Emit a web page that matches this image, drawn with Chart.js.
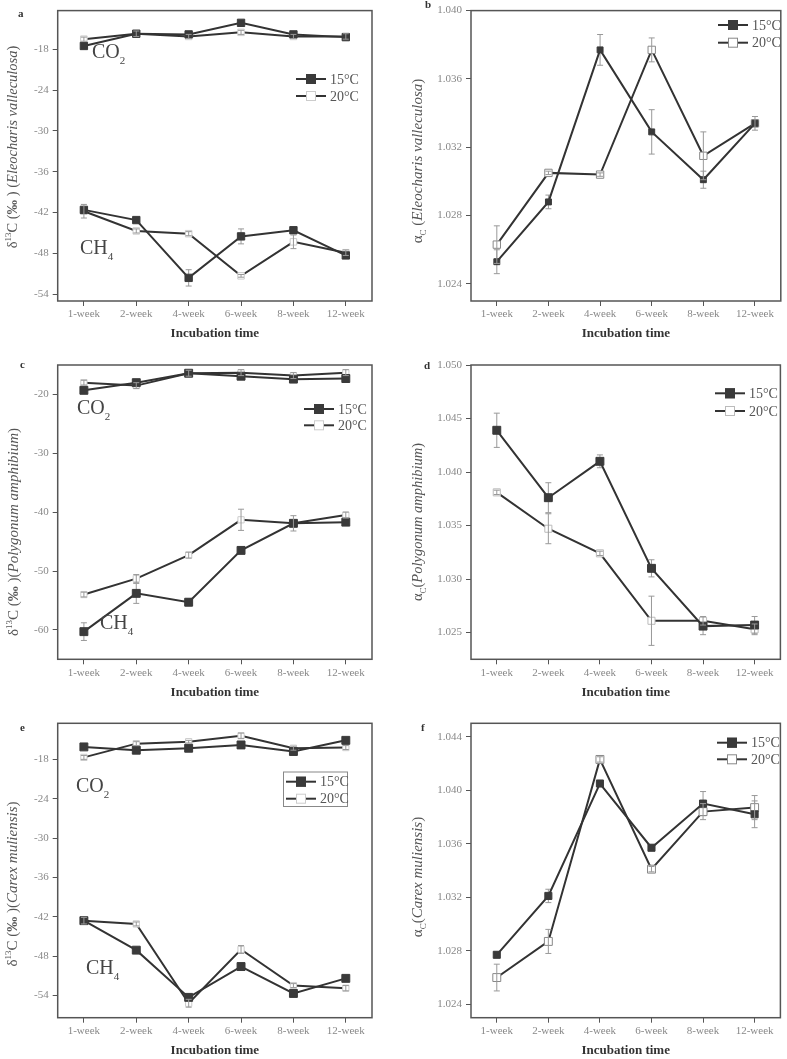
<!DOCTYPE html>
<html>
<head>
<meta charset="utf-8">
<script src="https://cdn.jsdelivr.net/npm/chart.js@4.4.0/dist/chart.umd.min.js"></script>
<style>
  body { margin: 0; background: #fff; width: 787px; height: 1059px; position: relative; overflow: hidden; font-family: "Liberation Serif", serif; }
  canvas { position: absolute; }
  .txt { position: absolute; white-space: nowrap; line-height: 1; }
  .ytitle { position: absolute; white-space: nowrap; color: #555; font-size: 15px; line-height: 1; transform: translate(-50%, -50%) rotate(-90deg); }
  .ytitle sup, .ytitle sub { font-size: 9px; line-height: 0; }
  .gas { font-size: 20px; color: #444; }
  .gas sub { font-size: 11px; vertical-align: -6px; line-height: 0; }
  .letter { font-weight: bold; font-size: 11px; color: #333; }
</style>
</head>
<body>
<canvas id="pa"></canvas><canvas id="pb"></canvas>
<canvas id="pc"></canvas><canvas id="pd"></canvas>
<canvas id="pe"></canvas><canvas id="pf"></canvas>

<div class="txt letter" style="left:18px;top:8px">a</div>
<div class="txt letter" style="left:425px;top:-1px">b</div>
<div class="txt letter" style="left:20px;top:359px">c</div>
<div class="txt letter" style="left:424px;top:360px">d</div>
<div class="txt letter" style="left:20px;top:722px">e</div>
<div class="txt letter" style="left:421px;top:722px">f</div>

<div class="ytitle" style="left:12px;top:147px;font-size:14.5px">δ<sup>13</sup>C (<b>‰</b> ) (<i>Eleocharis valleculosa</i>)</div>
<div class="ytitle" style="left:417px;top:161px">α<sub>C</sub> (<i>Eleocharis valleculosa</i>)</div>
<div class="ytitle" style="left:13px;top:532px">δ<sup>13</sup>C (<b>‰</b> )(<i>Polygonum amphibium</i>)</div>
<div class="ytitle" style="left:417px;top:522px;font-size:14.5px">α<sub>C</sub>(<i>Polygonum amphibium</i>)</div>
<div class="ytitle" style="left:12px;top:884px">δ<sup>13</sup>C (<b>‰</b> )(<i>Carex muliensis</i>)</div>
<div class="ytitle" style="left:417px;top:877px">α<sub>C</sub>(<i>Carex muliensis</i>)</div>

<div class="txt gas" style="left:92px;top:41px">CO<sub>2</sub></div>
<div class="txt gas" style="left:80px;top:237px">CH<sub>4</sub></div>
<div class="txt gas" style="left:77px;top:397px">CO<sub>2</sub></div>
<div class="txt gas" style="left:100px;top:612px">CH<sub>4</sub></div>
<div class="txt gas" style="left:76px;top:775px">CO<sub>2</sub></div>
<div class="txt gas" style="left:86px;top:957px">CH<sub>4</sub></div>

<script>
const weeks = ["1-week", "2-week", "4-week", "6-week", "8-week", "12-week"];

// a: delta13C, Eleocharis valleculosa
const aCO2_15 = [-17.5, -15.7, -15.8, -14.1, -15.8, -16.2];
const aCO2_20 = [-16.5, -15.7, -16.1, -15.5, -16.1, -16.1];
const aCH4_15 = [-41.6, -43.1, -51.6, -45.5, -44.6, -48.3];
const aCH4_20 = [-41.8, -44.7, -45.1, -51.3, -46.3, -47.9];
const aCO2_15err = [0.2, 0.3, 0.3, 0.2, 0.3, 0.3];
const aCO2_20err = [0.3, 0.4, 0.3, 0.3, 0.3, 0.4];
const aCH4_15err = [0.4, 0.2, 1.2, 1.1, 0.3, 0.2];
const aCH4_20err = [1.0, 0.3, 0.3, 0.2, 1.0, 0.4];
const aTicks = [-54, -48, -42, -36, -30, -24, -18];

// b: alphaC, Eleocharis valleculosa
const b15 = [1.0253, 1.0288, 1.0377, 1.0329, 1.0301, 1.0334];
const b20 = [1.0263, 1.0305, 1.0304, 1.0377, 1.0315, 1.0334];
const b15err = [0.0007, 0.0004, 0.0009, 0.0013, 0.0005, 0.0002];
const b20err = [0.0011, 0.0001, 0.0001, 0.0007, 0.0014, 0.0004];
const bTicks = [1.024, 1.028, 1.032, 1.036, 1.040];

// c: delta13C, Polygonum amphibium
const cCO2_15 = [-19.3, -18.0, -16.4, -16.9, -17.4, -17.3];
const cCO2_20 = [-18.0, -18.5, -16.4, -16.3, -16.8, -16.3];
const cCH4_15 = [-60.3, -53.8, -55.3, -46.5, -41.9, -41.7];
const cCH4_20 = [-54.0, -51.3, -47.3, -41.3, -41.9, -40.5];
const cCO2_15err = [0.3, 0.4, 0.3, 0.3, 0.3, 0.3];
const cCO2_20err = [0.4, 0.5, 0.5, 0.5, 0.5, 0.5];
const cCH4_15err = [1.5, 1.7, 0.6, 0.2, 0.4, 0.4];
const cCH4_20err = [0.4, 0.7, 0.5, 1.8, 1.3, 0.5];
const cTicks = [-60, -50, -40, -30, -20];

// d: alphaC, Polygonum amphibium
const d15 = [1.0439, 1.0376, 1.0410, 1.0310, 1.0256, 1.0257];
const d20 = [1.0381, 1.0347, 1.0324, 1.0261, 1.0261, 1.0253];
const d15err = [0.0016, 0.0014, 0.0006, 0.0008, 0.0008, 0.0008];
const d20err = [0.0002, 0.0014, 0.0002, 0.0023, 0.0004, 0.0005];
const dTicks = [1.025, 1.030, 1.035, 1.040, 1.045, 1.050];

// e: delta13C, Carex muliensis
const eCO2_15 = [-16.1, -16.6, -16.3, -15.8, -16.8, -15.1];
const eCO2_20 = [-17.7, -15.6, -15.3, -14.4, -16.3, -16.2];
const eCH4_15 = [-42.6, -47.1, -54.3, -49.6, -53.7, -51.4];
const eCH4_20 = [-42.6, -43.1, -55.2, -47.0, -52.5, -52.9];
const eCO2_15err = [0.2, 0.2, 0.2, 0.2, 0.2, 0.2];
const eCO2_20err = [0.3, 0.3, 0.2, 0.4, 0.3, 0.3];
const eCH4_15err = [0.3, 0.2, 0.3, 0.2, 0.2, 0.3];
const eCH4_20err = [0.5, 0.3, 0.6, 0.6, 0.3, 0.4];
const eTicks = [-54, -48, -42, -36, -30, -24, -18];

// f: alphaC, Carex muliensis
const f15 = [1.0277, 1.0321, 1.0405, 1.0357, 1.0390, 1.0382];
const f20 = [1.0260, 1.0287, 1.0423, 1.0341, 1.0384, 1.0387];
const f15err = [0.0002, 0.0005, 0.0002, 0.0002, 0.0009, 0.0010];
const f20err = [0.0010, 0.0009, 0.0002, 0.0002, 0.0006, 0.0009];
const fTicks = [1.024, 1.028, 1.032, 1.036, 1.040, 1.044];

const LINE = "#333";
const DARK = "#3a3a3a";
const FONT = "Liberation Serif";

function series(label, data, err, filled, r, stroke) {
    return {
        label: label, data: data, err: err, errTop: !filled,
        borderColor: LINE, borderWidth: 2, tension: 0,
        pointStyle: "rect", pointRadius: r, pointHoverRadius: r, pointBorderWidth: 1,
        pointBackgroundColor: filled ? DARK : "#fff",
        pointBorderColor: filled ? DARK : stroke,
    };
}

// error bars: under the filled markers, over the open ones
function drawErr(chart, top) {
    const ctx = chart.ctx, ys = chart.scales.y;
    chart.data.datasets.forEach((ds, i) => {
        if (!ds.err || ds.errTop !== top) return;
        const meta = chart.getDatasetMeta(i);
        ctx.save();
        ctx.strokeStyle = "#999";
        ctx.lineWidth = 1;
        meta.data.forEach((pt, j) => {
            const y1 = ys.getPixelForValue(ds.data[j] + ds.err[j]);
            const y2 = ys.getPixelForValue(ds.data[j] - ds.err[j]);
            ctx.beginPath();
            ctx.moveTo(pt.x, y1); ctx.lineTo(pt.x, y2);
            ctx.moveTo(pt.x - 3, y1); ctx.lineTo(pt.x + 3, y1);
            ctx.moveTo(pt.x - 3, y2); ctx.lineTo(pt.x + 3, y2);
            ctx.stroke();
        });
        ctx.restore();
    });
}

const decor = {
    id: "decor",
    beforeDatasetsDraw(chart) { drawErr(chart, false); },
    afterDatasetsDraw(chart, args, opts) {
        drawErr(chart, true);
        const ctx = chart.ctx, a = chart.chartArea;
        ctx.save();
        ctx.strokeStyle = "#555";
        ctx.lineWidth = 1.5;
        ctx.strokeRect(a.left, a.top, a.right - a.left, a.bottom - a.top);
        if (opts.box) {
            ctx.lineWidth = 1;
            ctx.strokeStyle = "#888";
            ctx.strokeRect(opts.box[0], opts.box[1], opts.box[2], opts.box[3]);
        }
        opts.items.forEach((it, i) => {
            const ds = chart.data.datasets[it.ds];
            const y = opts.y + i * opts.gap;
            ctx.strokeStyle = LINE;
            ctx.lineWidth = 2;
            ctx.beginPath();
            ctx.moveTo(opts.x, y); ctx.lineTo(opts.x + 30, y);
            ctx.stroke();
            ctx.fillStyle = ds.pointBackgroundColor;
            ctx.strokeStyle = ds.pointBorderColor;
            ctx.lineWidth = 1;
            ctx.fillRect(opts.x + 10, y - 5, 10, 10);
            ctx.strokeRect(opts.x + 10.5, y - 4.5, 9, 9);
            ctx.fillStyle = "#555";
            ctx.font = "14px " + FONT;
            ctx.textBaseline = "middle";
            ctx.fillText(it.label, opts.x + 34, y + 1);
        });
        ctx.restore();
    },
};

function panel(id, p) {
    const cv = document.getElementById(id);
    cv.width = p.w; cv.height = p.h;
    cv.style.left = p.left + "px"; cv.style.top = p.top + "px";
    const tickFont = { family: FONT, size: 11 };
    return new Chart(cv, {
        type: "line",
        data: { labels: weeks, datasets: p.datasets },
        plugins: [decor],
        options: {
            responsive: false,
            animation: false,
            layout: { padding: { left: 0, right: p.padR, top: p.padT, bottom: p.padB } },
            plugins: {
                legend: { display: false },
                tooltip: { enabled: false },
                decor: p.legend,
            },
            scales: {
                x: {
                    offset: true,
                    border: { display: false },
                    grid: { drawOnChartArea: false, tickLength: 5, color: "#555" },
                    ticks: { color: "#888", font: tickFont, padding: 2, maxRotation: 0, autoSkip: false },
                    title: { display: true, text: "Incubation time", color: "#333", padding: 0,
                             font: { family: FONT, size: 13, weight: "bold" } },
                    afterFit: s => { s.height = p.xH; },
                },
                y: {
                    min: p.min, max: p.max,
                    border: { display: false },
                    grid: { drawOnChartArea: false, tickLength: 5, color: "#555" },
                    ticks: { color: "#888", font: tickFont, padding: 4, callback: v => v.toFixed(p.dec) },
                    afterBuildTicks: s => { s.ticks = p.ticks.map(v => ({ value: v })); },
                    afterFit: s => { s.width = p.yW; },
                },
            },
        },
    });
}

panel("pa", {
    left: 0, top: 0, w: 393, h: 345, yW: 57.7, padT: 5, padR: 21, padB: 4, xH: 40,
    min: -55, max: -12.3, ticks: aTicks, dec: 0,
    datasets: [
        series("15°C", aCO2_15, aCO2_15err, true, 5.2),
        series("15°C", aCH4_15, aCH4_15err, true, 5.2),
        series("20°C", aCO2_20, aCO2_20err, false, 4.6, "#ccc"),
        series("20°C", aCH4_20, aCH4_20err, false, 4.6, "#ccc"),
    ],
    legend: { x: 296, y: 79, gap: 17, items: [{ label: "15°C", ds: 0 }, { label: "20°C", ds: 2 }] },
});

panel("pb", {
    left: 393, top: 0, w: 394, h: 345, yW: 78, padT: 6, padR: 2, padB: 4, xH: 40,
    min: 1.023, max: 1.040, ticks: bTicks, dec: 3,
    datasets: [
        series("15°C", b15, b15err, true, 4.2),
        series("20°C", b20, b20err, false, 5.2, "#888"),
    ],
    legend: { x: 325, y: 25, gap: 17.7, items: [{ label: "15°C", ds: 0 }, { label: "20°C", ds: 1 }] },
});

panel("pc", {
    left: 0, top: 350, w: 393, h: 352, yW: 57.7, padT: 15, padR: 21, padB: 1.2, xH: 41.5,
    min: -65, max: -15, ticks: cTicks, dec: 0,
    datasets: [
        series("15°C", cCO2_15, cCO2_15err, true, 5.6),
        series("15°C", cCH4_15, cCH4_15err, true, 5.6),
        series("20°C", cCO2_20, cCO2_20err, false, 4.4, "#ccc"),
        series("20°C", cCH4_20, cCH4_20err, false, 4.4, "#ccc"),
    ],
    legend: { x: 304, y: 59, gap: 16.3, items: [{ label: "15°C", ds: 0 }, { label: "20°C", ds: 2 }] },
});

panel("pd", {
    left: 393, top: 350, w: 394, h: 352, yW: 78, padT: 15, padR: 2, padB: 1.2, xH: 41.5,
    min: 1.0225, max: 1.050, ticks: dTicks, dec: 3,
    datasets: [
        series("15°C", d15, d15err, true, 5.6),
        series("20°C", d20, d20err, false, 5.0, "#bbb"),
    ],
    legend: { x: 322, y: 43.3, gap: 17.7, items: [{ label: "15°C", ds: 0 }, { label: "20°C", ds: 1 }] },
});

panel("pe", {
    left: 0, top: 700, w: 393, h: 359, yW: 57.7, padT: 23.3, padR: 21, padB: 0.3, xH: 41,
    min: -57.4, max: -12.5, ticks: eTicks, dec: 0,
    datasets: [
        series("15°C", eCO2_15, eCO2_15err, true, 5.6),
        series("15°C", eCH4_15, eCH4_15err, true, 5.6),
        series("20°C", eCO2_20, eCO2_20err, false, 4.4, "#ccc"),
        series("20°C", eCH4_20, eCH4_20err, false, 4.4, "#ccc"),
    ],
    legend: { x: 286, y: 81.7, gap: 17, box: [283.5, 72, 64, 34.5],
              items: [{ label: "15°C", ds: 0 }, { label: "20°C", ds: 2 }] },
});

panel("pf", {
    left: 393, top: 700, w: 394, h: 359, yW: 78, padT: 23.3, padR: 2, padB: 0.3, xH: 41,
    min: 1.023, max: 1.045, ticks: fTicks, dec: 3,
    datasets: [
        series("15°C", f15, f15err, true, 5.0),
        series("20°C", f20, f20err, false, 5.6, "#888"),
    ],
    legend: { x: 324, y: 42.7, gap: 16.6, items: [{ label: "15°C", ds: 0 }, { label: "20°C", ds: 1 }] },
});
</script>
</body>
</html>
